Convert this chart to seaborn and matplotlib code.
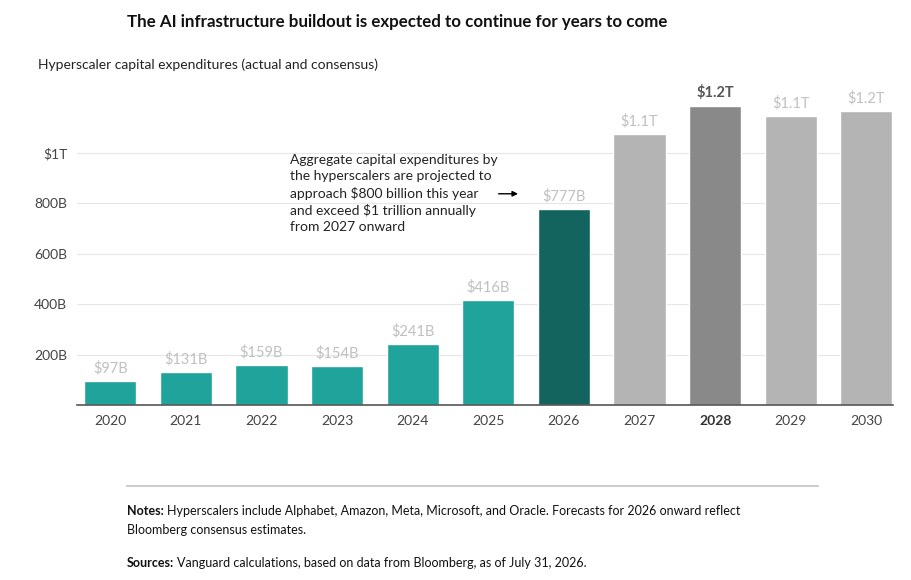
import numpy as np
import pandas as pd
import matplotlib
matplotlib.use('Agg')
import matplotlib.pyplot as plt
import seaborn as sns

# dati (miliardi di dollari)
anni = ['2020', '2021', '2022', '2023', '2024', '2025', '2026', '2027', '2028', '2029', '2030']
capex = [97, 131, 159, 154, 241, 416, 777, 1075, 1187, 1147, 1167]
etichette = ['$97B', '$131B', '$159B', '$154B', '$241B', '$416B', '$777B', '$1.1T', '$1.2T', '$1.1T', '$1.2T']
colori = ['#1fa39a'] * 6 + ['#13635e', '#b4b4b4', '#898989', '#b4b4b4', '#b4b4b4']

tick_val = [200, 400, 600, 800, 1000]
tick_lab = ['200B', '400B', '600B', '800B', '$1T']

df = pd.DataFrame({'Anno': anni, 'Capex': capex})

sns.set_style('white')
plt.rcParams['font.family'] = ['Lato', 'DejaVu Sans']

fig = plt.figure(figsize=(9.12, 5.8), dpi=100)
ax = fig.add_axes([0.0844, 0.3017, 0.8946, 0.565])

sns.barplot(x='Anno', y='Capex', data=df, hue='Anno', palette=colori,
            legend=False, width=0.69, ax=ax, saturation=1)

ax.set_ylim(0, 1300)
ax.set_xlim(-0.44, 10.35)
ax.set_yticks(tick_val)
ax.set_yticklabels(tick_lab)
ax.grid(axis='y', color='#e6e6e6', linewidth=0.8)
ax.set_axisbelow(True)
ax.set_xlabel('')
ax.set_ylabel('')
for s in ['top', 'right', 'left']:
    ax.spines[s].set_visible(False)
ax.spines['bottom'].set_color('#555555')
ax.spines['bottom'].set_linewidth(1.2)
ax.tick_params(axis='both', length=0, labelsize=10, colors='#444444')
ax.tick_params(axis='y', pad=7)
ax.tick_params(axis='x', pad=7)
for lab in ax.get_xticklabels():
    if lab.get_text() == '2028':
        lab.set_fontweight('bold')
        lab.set_color('#333333')

# etichette sopra le barre
for i, (v, t) in enumerate(zip(capex, etichette)):
    if anni[i] == '2028':
        ax.text(i, v + 22, t, ha='center', va='bottom', fontsize=10.5,
                color='#555555', fontweight='bold')
    else:
        ax.text(i, v + 22, t, ha='center', va='bottom', fontsize=10.5,
                color='#c0c0c0')

# nota sul grafico
ax.text(2.38, 995, 'Aggregate capital expenditures by\nthe hyperscalers are projected to\n'
        'approach $800 billion this year\nand exceed $1 trillion annually\nfrom 2027 onward',
        ha='left', va='top', fontsize=10, color='#222222', linespacing=1.4)
ax.annotate('', xy=(5.43, 838), xytext=(5.1, 838),
            arrowprops=dict(arrowstyle='-|>', color='black', lw=1, mutation_scale=8))

fig.text(0.435, 0.962, 'The AI infrastructure buildout is expected to continue for years to come',
         ha='center', va='center', fontsize=12.2, fontweight='bold', color='#111111')
fig.text(0.042, 0.889, 'Hyperscaler capital expenditures (actual and consensus)',
         ha='left', va='center', fontsize=10, color='#222222')

fig.add_artist(plt.Line2D([0.139, 0.897], [0.162, 0.162], color='#cccccc', linewidth=1.5))

# note e fonti: etichetta in grassetto + testo normale
renderer = fig.canvas.get_renderer()
def riga(y, titolo, testo):
    t = fig.text(0.139, y, titolo, ha='left', va='baseline', fontsize=9,
                 fontweight='bold', color='#111111')
    bb = t.get_window_extent(renderer=renderer)
    x2 = (bb.x1 + 3) / fig.bbox.width
    fig.text(x2, y, testo, ha='left', va='baseline', fontsize=9, color='#111111')

riga(0.112, 'Notes:', 'Hyperscalers include Alphabet, Amazon, Meta, Microsoft, and Oracle. '
     'Forecasts for 2026 onward reflect')
fig.text(0.139, 0.079, 'Bloomberg consensus estimates.', ha='left', va='baseline',
         fontsize=9, color='#111111')
riga(0.022, 'Sources:', 'Vanguard calculations, based on data from Bloomberg, as of July 31, 2026.')

plt.savefig('out.png', dpi=100)
